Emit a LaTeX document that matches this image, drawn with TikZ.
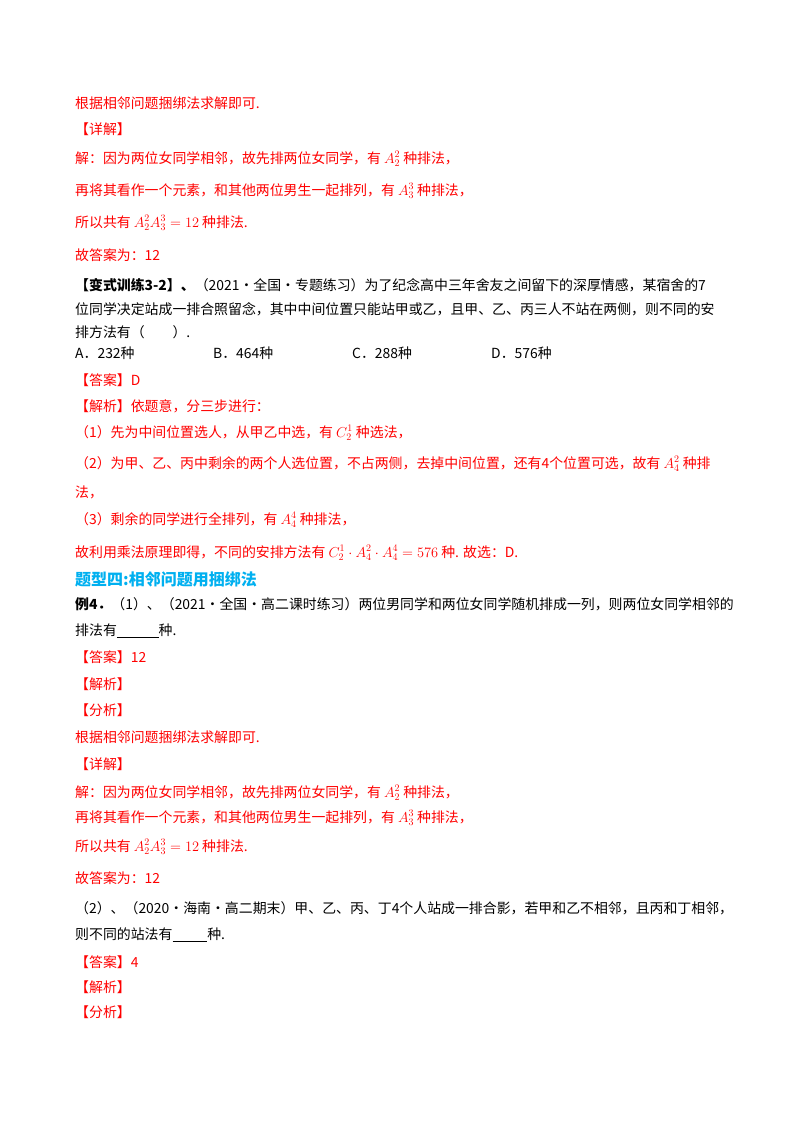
\documentclass[tikz,border=0pt]{standalone}
\usepackage{fontspec}
\setmainfont{Liberation Serif}
\newfontfamily\cjk{Noto Sans CJK SC}
\usepackage{amsmath}
\usetikzlibrary{positioning}
\definecolor{ansred}{RGB}{255,0,0}
\definecolor{headblue}{RGB}{0,176,240}
\tikzset{
  line/.style={anchor=west, inner sep=0pt, font=\cjk\fontsize{13.9}{16}\selectfont},
  redline/.style={line, text=ansred},
  blkline/.style={line, text=black},
  head/.style={line, text=headblue, font=\cjk\bfseries\fontsize{16}{18}\selectfont}
}
\newcommand{\bb}[1]{{\bfseries #1}}
\begin{document}
\begin{tikzpicture}[x=1pt, y=-1pt]

% Set the size of the figure
\fill[white] (0,0) rectangle (800,1132);

% first solution (red)
\node[redline] (l1) at (75,103) {根据相邻问题捆绑法求解即可.};
\node[redline] (l2) at (75,129) {【详解】};
\node[redline] (l3) at (75,159) {解：因为两位女同学相邻，故先排两位女同学，有 $A_2^2$ 种排法，};
\node[redline] (l4) at (75,191) {再将其看作一个元素，和其他两位男生一起排列，有 $A_3^3$ 种排法，};
\node[redline] (l5) at (75,223) {所以共有 $A_2^2A_3^3=12$ 种排法.};
\node[redline] (l6) at (75,255) {故答案为：12};

% variant exercise
\node[blkline] (v1) at (75,285) {\bb{【变式训练3-2】、}（2021·全国·专题练习）为了纪念高中三年舍友之间留下的深厚情感，某宿舍的7};
\node[blkline] (v2) at (75,309) {位同学决定站成一排合照留念，其中中间位置只能站甲或乙，且甲、乙、丙三人不站在两侧，则不同的安};
\node[blkline] (v3) at (75,332) {排方法有（\qquad）.};
\node[blkline] (oa) at (75,353) {A．232种};
\node[blkline] (ob) at (213,353) {B．464种};
\node[blkline] (oc) at (352,353) {C．288种};
\node[blkline] (od) at (491,353) {D．576种};
\node[redline] (a1) at (75,380) {【答案】D};
\node[redline] (a2) at (75,406) {【解析】依题意，分三步进行：};
\node[redline] (a3) at (75,433) {（1）先为中间位置选人，从甲乙中选，有 $C_2^1$ 种选法，};
\node[redline] (a4) at (75,464) {（2）为甲、乙、丙中剩余的两个人选位置，不占两侧，去掉中间位置，还有4个位置可选，故有 $A_4^2$ 种排};
\node[redline] (a5) at (75,492) {法，};
\node[redline] (a6) at (75,520) {（3）剩余的同学进行全排列，有 $A_4^4$ 种排法，};
\node[redline] (a7) at (75,553) {故利用乘法原理即得，不同的安排方法有 $C_2^1\cdot A_4^2\cdot A_4^4=576$ 种. 故选：D.};

% type four
\node[head] (h4) at (75,579) {题型四:相邻问题用捆绑法};
\node[blkline] (e1) at (75,604) {\bb{例4．}（1）、（2021·全国·高二课时练习）两位男同学和两位女同学随机排成一列，则两位女同学相邻的};
\node[blkline] (e2) at (75,631) {排法有\underline{\hspace{3em}}种.};
\node[redline] (b1) at (75,657) {【答案】12};
\node[redline] (b2) at (75,684) {【解析】};
\node[redline] (b3) at (75,710) {【分析】};
\node[redline] (b4) at (75,737) {根据相邻问题捆绑法求解即可.};
\node[redline] (b5) at (75,764) {【详解】};
\node[redline] (b6) at (75,793) {解：因为两位女同学相邻，故先排两位女同学，有 $A_2^2$ 种排法，};
\node[redline] (b7) at (75,818) {再将其看作一个元素，和其他两位男生一起排列，有 $A_3^3$ 种排法，};
\node[redline] (b8) at (75,847) {所以共有 $A_2^2A_3^3=12$ 种排法.};
\node[redline] (b9) at (75,878) {故答案为：12};
\node[blkline] (f1) at (75,908) {（2）、（2020·海南·高二期末）甲、乙、丙、丁4个人站成一排合影，若甲和乙不相邻，且丙和丁相邻，};
\node[blkline] (f2) at (75,935) {则不同的站法有\underline{\hspace{2.5em}}种.};
\node[redline] (c1) at (75,962) {【答案】4};
\node[redline] (c2) at (75,987) {【解析】};
\node[redline] (c3) at (75,1012) {【分析】};
\end{tikzpicture}
\end{document}
